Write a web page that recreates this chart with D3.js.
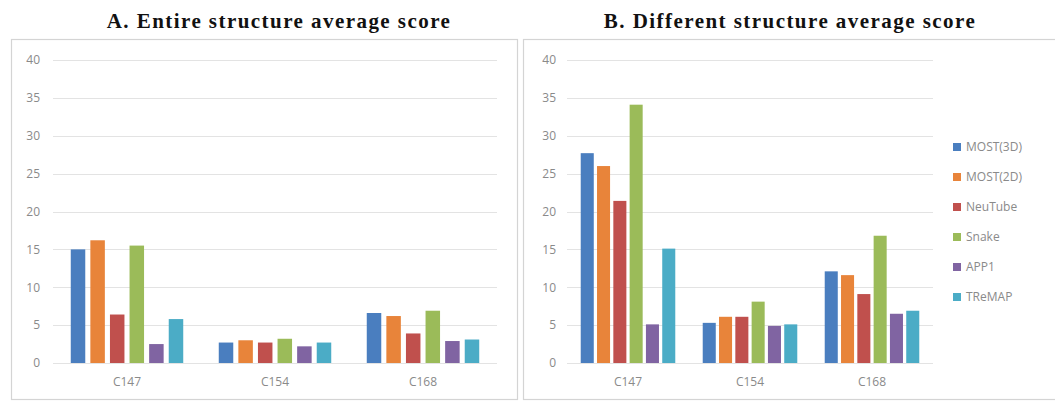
<!DOCTYPE html>
<html>
<head>
<meta charset="utf-8">
<script src="https://cdn.jsdelivr.net/npm/d3@7"></script>
<style>
  body { margin: 0; background: #fff; }
  svg text { font-family: "Open Sans", "DejaVu Sans", sans-serif; }
</style>
</head>
<body>
<svg id="chart" width="1055" height="402"></svg>
<script>
(function() {
    "use strict";

    var categories = ["C147", "C154", "C168"];
    var methods = ["MOST(3D)", "MOST(2D)", "NeuTube", "Snake", "APP1", "TReMAP"];
    var colors = ["#4a7ebf", "#e8843a", "#c0504d", "#9bbb59", "#8064a2", "#4bacc6"];
    var yTicks = [0, 5, 10, 15, 20, 25, 30, 35, 40];

    // one row per method, values for C147, C154, C168
    var entireScores = [
        [15.0, 2.7, 6.6],
        [16.2, 3.0, 6.2],
        [6.4, 2.7, 3.9],
        [15.5, 3.2, 6.9],
        [2.5, 2.2, 2.9],
        [5.8, 2.7, 3.1]
    ];
    var differentScores = [
        [27.7, 5.3, 12.1],
        [26.0, 6.1, 11.6],
        [21.4, 6.1, 9.1],
        [34.1, 8.1, 16.8],
        [5.1, 4.9, 6.5],
        [15.1, 5.1, 6.9]
    ];

    var svg = d3.select("#chart");

    function drawPanel(opts) {
        var g = svg.append("g");

        // frame
        g.append("rect")
            .attr("x", opts.frame[0] + 0.5)
            .attr("y", opts.frame[1] + 0.5)
            .attr("width", opts.frame[2])
            .attr("height", opts.frame[3])
            .attr("fill", "none")
            .attr("stroke", "#d4d4d4")
            .attr("stroke-width", 1.2);

        g.append("text")
            .attr("x", opts.titleX)
            .attr("y", 28)
            .attr("text-anchor", "middle")
            .style("font-family", "'Liberation Serif', 'DejaVu Serif', serif")
            .style("font-weight", "bold")
            .style("font-size", "21px")
            .style("letter-spacing", "1.45px")
            .attr("fill", "#111")
            .text(opts.title);

        var y = d3.scaleLinear().domain([0, 40]).range([363, 60]);
        var x0 = d3.scaleBand().domain(categories).range(opts.xRange).paddingInner(opts.outerPad).paddingOuter(opts.outerPad / 2);
        var x1 = d3.scaleBand().domain(d3.range(methods.length)).range([0, x0.bandwidth()]).paddingInner(opts.innerPad).paddingOuter(0);

        // gridlines
        g.append("g").selectAll("line")
            .data(yTicks)
            .enter()
            .append("line")
            .attr("x1", opts.xRange[0])
            .attr("x2", opts.xRange[1])
            .attr("y1", function(d) { return Math.round(y(d)) + 0.5; })
            .attr("y2", function(d) { return Math.round(y(d)) + 0.5; })
            .attr("stroke", "#e3e3e3")
            .attr("stroke-width", 1);

        var yAxis = d3.axisLeft(y).tickValues(yTicks).tickSize(0).tickPadding(0);
        var ya = g.append("g")
            .attr("transform", "translate(" + opts.labelX + ",0)")
            .call(yAxis);
        ya.select(".domain").remove();
        ya.selectAll("text")
            .attr("fill", "#8a8a8a")
            .style("font-size", "12px");

        var xAxis = d3.axisBottom(x0).tickSize(0).tickPadding(0);
        var xa = g.append("g")
            .attr("transform", "translate(0,377)")
            .call(xAxis);
        xa.select(".domain").remove();
        xa.selectAll("text")
            .attr("fill", "#8a8a8a")
            .style("font-size", "12px");

        // bars
        opts.data.forEach(function(row, m) {
            g.append("g")
                .selectAll("rect")
                .data(row)
                .enter()
                .append("rect")
                .attr("x", function(d, i) { return x0(categories[i]) + x1(m); })
                .attr("y", function(d) { return y(d); })
                .attr("width", x1.bandwidth())
                .attr("height", function(d) { return y(0) - y(d); })
                .attr("fill", colors[m]);
        });
        return g;
    }

    drawPanel({
        frame: [11, 39, 506, 360],
        title: "A. Entire structure average score",
        titleX: 279,
        xRange: [53, 497],
        outerPad: 0.24,
        innerPad: 0.26,
        labelX: 40,
        data: entireScores
    });

    drawPanel({
        frame: [523, 39, 540, 360],
        title: "B. Different structure average score",
        titleX: 790,
        xRange: [567, 933],
        outerPad: 0.225,
        innerPad: 0.2,
        labelX: 556,
        data: differentScores
    });

    // legend for panel B
    var legend = svg.append("g").selectAll("g")
        .data(methods)
        .enter()
        .append("g")
        .attr("transform", function(d, i) { return "translate(953," + (147 + i * 30) + ")"; });

    legend.append("rect")
        .attr("x", 0)
        .attr("y", -4)
        .attr("width", 8)
        .attr("height", 8)
        .attr("fill", function(d, i) { return colors[i]; });

    legend.append("text")
        .attr("x", 13)
        .attr("y", 0)
        .attr("dy", "0.35em")
        .attr("fill", "#8a8a8a")
        .style("font-size", "12px")
        .text(function(d) { return d; });
})();
</script>
</body>
</html>
